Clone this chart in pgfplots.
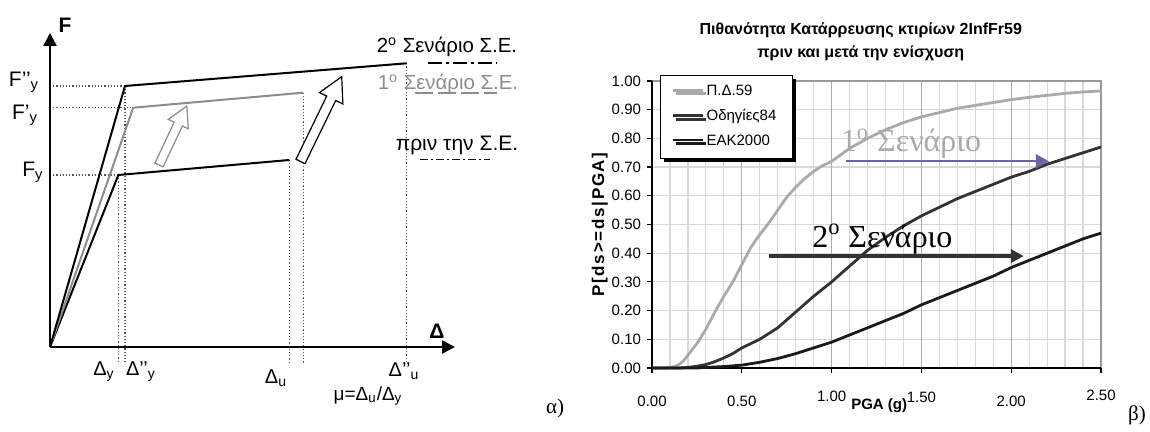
\documentclass[border=0pt]{standalone}
\usepackage{fontspec}
\setmainfont{Liberation Sans}
\newfontfamily\serif{Liberation Serif}
\usepackage{pgfplots}
\pgfplotsset{compat=1.18}
\usetikzlibrary{arrows.meta,shadows}
\definecolor{lgray}{HTML}{AAAAAA}
\definecolor{mgray}{HTML}{8C8C8C}
\definecolor{dk1}{HTML}{333333}
\definecolor{dk2}{HTML}{1A1A1A}
\definecolor{arrblue}{HTML}{6767A3}
\definecolor{dotc}{HTML}{555555}
\begin{document}
\begin{tikzpicture}
\useasboundingbox (0,0) rectangle (575pt,216pt);
% ---------------- left panel ----------------
\begin{axis}[at={(0pt,0pt)}, anchor=south west, scale only axis,
  width=290pt, height=216pt, xmin=-50, xmax=530, ymin=-85, ymax=347,
  hide axis, clip=false]
% dotted guide lines
\addplot[dotc, densely dotted, line width=0.6pt] coordinates {(0,261) (75,261)};
\addplot[dotc, densely dotted, line width=0.6pt] coordinates {(0,239.3) (83.2,239.3)};
\addplot[dotc, densely dotted, line width=0.6pt] coordinates {(0,172) (68.4,172)};
\addplot[dotc, densely dotted, line width=0.6pt] coordinates {(68.4,172) (68.4,-16)};
\addplot[dotc, densely dotted, line width=0.6pt] coordinates {(75,261) (75,-16)};
\addplot[dotc, densely dotted, line width=0.6pt] coordinates {(239.3,187) (239.3,-16)};
\addplot[dotc, densely dotted, line width=0.6pt] coordinates {(253.2,254.3) (253.2,-16)};
\addplot[dotc, densely dotted, line width=0.6pt] coordinates {(356.7,283.7) (356.7,-16)};
% axes
\addplot[black, line width=1.3pt, -{Triangle[length=6.5pt,width=6.5pt]}] coordinates {(0,0) (0,314)};
\addplot[black, line width=1.3pt, -{Triangle[length=6.5pt,width=6.5pt]}] coordinates {(0,0) (405,0)};
% capacity curves
\addplot[black, line width=1pt] coordinates {(0,0) (68.4,172) (239.3,187)};
\addplot[mgray, line width=1pt] coordinates {(0,0) (83.2,239.3) (253.2,254.3)};
\addplot[black, line width=1pt] coordinates {(0,0) (75,261) (356.7,283.7)};
% hollow arrows
\addplot[draw=mgray, fill=white, line width=0.6pt] coordinates {(104.9,183.9) (124.2,224.8) (118.3,227.6) (136.8,241) (138.3,218.2) (132.4,221.0) (113.1,180.1)} -- cycle;
\addplot[draw=black, fill=white, line width=0.6pt] coordinates {(246.0,187.7) (276.7,250.9) (269.5,254.4) (291.7,270.3) (292.9,243.0) (285.7,246.5) (255.0,183.3)} -- cycle;
% legend-like line samples
\addplot[black, line width=1pt, dash pattern=on 7pt off 2pt on 1.5pt off 2pt] coordinates {(378,284.3) (447,284.3)};
\addplot[mgray, line width=1pt, dash pattern=on 9pt off 2.5pt] coordinates {(365,253.5) (447,253.5)};
\addplot[black, line width=0.5pt, dash pattern=on 4pt off 1.5pt on 1pt off 1.5pt] coordinates {(370,187) (440,187)};
% labels
\node[font=\bfseries\fontsize{10.5}{12}\selectfont] at (axis cs:15,322) {F};
\node[font=\bfseries\fontsize{10.5}{12}\selectfont] at (axis cs:387,16) {Δ};
\node[font=\fontsize{10.5}{12}\selectfont] at (axis cs:-26,265) {F’’\textsubscript{y}};
\node[font=\fontsize{10.5}{12}\selectfont] at (axis cs:-25,232) {F’\textsubscript{y}};
\node[font=\fontsize{10.5}{12}\selectfont] at (axis cs:-17,175) {F\textsubscript{y}};
\node[font=\fontsize{10}{12}\selectfont] at (axis cs:54,-25) {Δ\textsubscript{y}};
\node[font=\fontsize{10}{12}\selectfont] at (axis cs:91,-25) {Δ’’\textsubscript{y}};
\node[font=\fontsize{10}{12}\selectfont] at (axis cs:226,-31) {Δ\textsubscript{u}};
\node[font=\fontsize{10}{12}\selectfont] at (axis cs:354,-24) {Δ’’\textsubscript{u}};
\node[font=\fontsize{9.5}{11}\selectfont] at (axis cs:318,-49) {μ=Δ\textsubscript{u}/Δ\textsubscript{y}};
\node[font=\fontsize{10.2}{12}\selectfont] at (axis cs:397,300) {2\textsuperscript{o} Σενάριο Σ.Ε.};
\node[font=\fontsize{10.2}{12}\selectfont, text=mgray] at (axis cs:398,263) {1\textsuperscript{o} Σενάριο Σ.Ε.};
\node[font=\fontsize{10.5}{12}\selectfont] at (axis cs:407,202) {πριν την Σ.Ε.};
\node[font=\serif\fontsize{10.5}{12}\selectfont] at (axis cs:505,-61) {α)};
\end{axis}
% ---------------- right panel ----------------
\begin{axis}[at={(326pt,32pt)}, anchor=south west, scale only axis,
  width=224.5pt, height=143.5pt,
  xmin=0, xmax=2.5, ymin=0, ymax=1, clip=false,
  axis line style={draw=none},
  tick pos=left, tick align=outside,
  xtick={0,0.5,1,1.5,2,2.5},
  xticklabels={0.00,0.50,\raisebox{2.5pt}[\height][\depth]{1.00},\raisebox{2pt}[\height][\depth]{1.50},2.00,\raisebox{3pt}[\height][\depth]{2.50}},
  ytick={0,0.1,0.2,0.3,0.4,0.5,0.6,0.7,0.8,0.9,1},
  minor x tick num=4,
  major tick length=2.5pt, minor tick length=0pt,
  major tick style={black, line width=0.6pt},
  xminorgrids=true, ymajorgrids=true, xmajorgrids=false,
  major grid style={gray!30, line width=0.6pt},
  minor grid style={gray!30, line width=0.6pt},
  extra x ticks={0.5,1,1.5,2}, extra x tick labels={},
  extra x tick style={grid=major, major grid style={gray!65, line width=0.6pt}, major tick length=0pt},
  /pgf/number format/assume math mode=true,
  /pgf/number format/fixed, /pgf/number format/zerofill, /pgf/number format/precision=2,
  ticklabel style={font=\fontsize{7.5}{9}\selectfont},
  xticklabel style={yshift=-8pt},
  yticklabel style={xshift=0.5pt},
  legend style={at={(axis cs:0.045,1.02)}, anchor=north west, draw=black, line width=0.5pt,
    fill=white, font=\fontsize{7.5}{9}\selectfont, inner xsep=6pt, inner ysep=2.5pt,
    row sep=1pt, nodes={anchor=base west},
    drop shadow={shadow xshift=1.8pt, shadow yshift=-1.8pt, fill=black, opacity=1}},
  legend image code/.code={\pgfpathrectangle{\pgfpoint{0pt}{-4pt}}{\pgfpoint{15pt}{8pt}}\pgfusepath{use as bounding box}\draw[#1] (0pt,2.5pt) -- (15pt,2.5pt);},
]
\draw[gray!80, line width=0.6pt] (rel axis cs:0,1) -- (rel axis cs:1,1) -- (rel axis cs:1,0);
\draw[black, line width=0.7pt] (rel axis cs:0,1) -- (rel axis cs:0,0) -- (rel axis cs:1,0);
\addplot[lgray, line width=1.4pt] coordinates {(0,0) (0.08,0) (0.10,0.002) (0.125,0.005) (0.15,0.012) (0.175,0.025) (0.2,0.045) (0.25,0.085) (0.3,0.135) (0.35,0.195) (0.4,0.25) (0.45,0.30) (0.5,0.36) (0.55,0.42) (0.6,0.465) (0.65,0.505) (0.7,0.55) (0.75,0.595) (0.8,0.63) (0.85,0.66) (0.9,0.685) (0.95,0.705) (1.0,0.72) (1.1,0.765) (1.2,0.80) (1.3,0.83) (1.4,0.855) (1.5,0.875) (1.6,0.89) (1.7,0.905) (1.8,0.915) (1.9,0.925) (2.0,0.935) (2.1,0.943) (2.2,0.95) (2.3,0.957) (2.4,0.962) (2.5,0.965)};
\addlegendentry{Π.Δ.59}
\addplot[dk1, line width=1.4pt] coordinates {(0,0) (0.15,0) (0.2,0.002) (0.25,0.006) (0.3,0.012) (0.35,0.022) (0.4,0.035) (0.45,0.05) (0.5,0.07) (0.55,0.085) (0.6,0.10) (0.7,0.14) (0.8,0.195) (0.9,0.25) (1.0,0.30) (1.1,0.355) (1.2,0.41) (1.3,0.455) (1.4,0.495) (1.5,0.53) (1.6,0.56) (1.7,0.59) (1.8,0.615) (1.9,0.64) (2.0,0.665) (2.1,0.685) (2.2,0.71) (2.3,0.73) (2.4,0.75) (2.5,0.77)};
\addlegendentry{Οδηγίες84}
\addplot[dk2, line width=1.4pt] coordinates {(0,0) (0.25,0) (0.3,0.002) (0.4,0.005) (0.5,0.01) (0.6,0.02) (0.7,0.033) (0.8,0.05) (0.9,0.07) (1.0,0.09) (1.1,0.115) (1.2,0.14) (1.3,0.165) (1.4,0.19) (1.5,0.22) (1.6,0.245) (1.7,0.27) (1.8,0.295) (1.9,0.32) (2.0,0.35) (2.1,0.375) (2.2,0.40) (2.3,0.425) (2.4,0.45) (2.5,0.47)};
\addlegendentry{ΕΑΚ2000}
\addplot[arrblue, line width=0.9pt, -{Triangle[length=6.5pt,width=7pt]}, forget plot] coordinates {(1.08,0.72) (2.21,0.72)};
\addplot[dk1, line width=2pt, -{Triangle[length=6.5pt,width=6.5pt]}, forget plot] coordinates {(0.65,0.39) (2.07,0.39)};
\node[anchor=base west, inner sep=0pt, text=lgray, font=\serif\fontsize{16}{18}\selectfont] at (axis cs:1.05,0.754) {1\textsuperscript{o} Σενάριο};
\node[anchor=base west, inner sep=0pt, text=black, font=\serif\fontsize{16}{18}\selectfont] at (axis cs:0.89,0.42) {2\textsuperscript{o} Σενάριο};
\node[align=center, font=\bfseries\fontsize{8}{11.8}\selectfont] at (rel axis cs:0.465,1.137) {Πιθανότητα Κατάρρευσης κτιρίων 2InfFr59\\πριν και μετά την ενίσχυση};
\node[font=\bfseries\fontsize{7.5}{9}\selectfont] at (rel axis cs:0.506,-0.131) {PGA (g)};
\node[rotate=90, font=\bfseries\fontsize{8.5}{9}\selectfont\addfontfeature{LetterSpace=10}] at (rel axis cs:-0.116,0.5) {P[ds>=ds|PGA]};
\node[font=\serif\fontsize{10.5}{12}\selectfont] at (rel axis cs:1.08,-0.164) {β)};
\end{axis}
\end{tikzpicture}
\end{document}
